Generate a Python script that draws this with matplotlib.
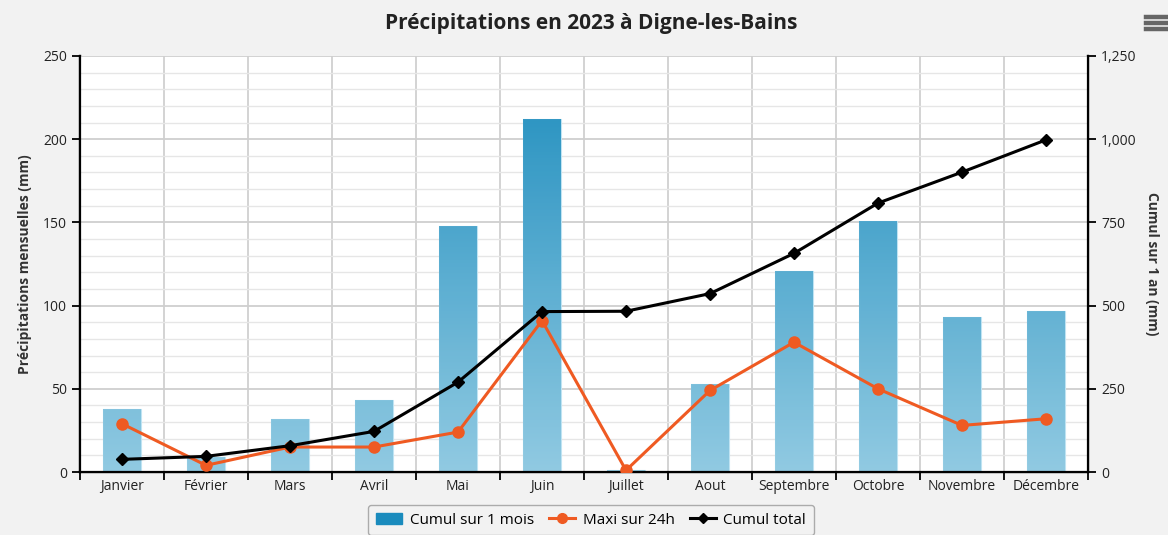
import matplotlib
matplotlib.use('Agg')
import matplotlib.pyplot as plt
from matplotlib.colors import LinearSegmentedColormap
from matplotlib.lines import Line2D
from matplotlib.patches import Patch
import numpy as np

## Data
mois = ['Janvier', 'Février', 'Mars', 'Avril', 'Mai', 'Juin', 'Juillet',
        'Aout', 'Septembre', 'Octobre', 'Novembre', 'Décembre']
cumul_mois = [38, 9, 32, 43, 148, 212, 1, 53, 121, 151, 93, 97]
maxi_24h = [29, 4, 15, 15, 24, 91, 1, 49, 78, 50, 28, 32]
cumul_total = [38, 47, 79, 122, 270, 482, 483, 536, 657, 808, 901, 998]

plt.rcParams['font.family'] = ['Open Sans', 'DejaVu Sans']

fig = plt.figure(figsize=(11.68, 5.35), dpi=100)
fig.patch.set_facecolor('#f2f2f2')
ax = fig.add_axes([80/1168, 1-472/535, 1008/1168, 416/535])
ax.set_facecolor('white')
ax2 = ax.twinx()

x = np.arange(len(mois))

## bars with vertical gradient
cmap = LinearSegmentedColormap.from_list('bl', ['#94cce3', '#1a8bbd'])
bars = ax.bar(x, cumul_mois, width=0.45, color='#5fb0d4', edgecolor='#bfe3f2',
              linewidth=0.8, zorder=2)
grad = np.linspace(0, 1, 256).reshape(-1, 1)
for b in bars:
    im = ax.imshow(grad, cmap=cmap, origin='lower', aspect='auto',
                   extent=[b.get_x(), b.get_x()+b.get_width(), 0, 250],
                   zorder=2.1, alpha=0.95)
    im.set_clip_path(b)

ax.plot(x, maxi_24h, color='#ef5a22', lw=2.2, marker='o', ms=8, zorder=4)
# cumul total drawn on left axes scaled to right axis (1250 / 250 = 5)
ax.plot(x, np.array(cumul_total)/5.0, color='black', lw=2.2, marker='D', ms=6, zorder=5)

ax.set_xlim(-0.5, 11.5)
ax.set_ylim(0, 250)
ax2.set_ylim(0, 1250)
ax2.set_zorder(0)
ax.set_zorder(1)

ax.set_yticks(np.arange(0, 251, 50))
ax.set_yticks(np.arange(0, 251, 10), minor=True)
ax2.set_yticks(np.arange(0, 1251, 250))
ax2.set_yticklabels(['0', '250', '500', '750', '1,000', '1,250'])
ax.set_xticks(x)
ax.set_xticklabels(mois)
ax.set_xticks(np.arange(-0.5, 12, 1), minor=True)

ax.grid(which='major', axis='y', color='#cfcfcf', lw=1.3, zorder=0)
ax.grid(which='minor', axis='y', color='#e6e6e6', lw=1.0, zorder=0)
ax.grid(which='minor', axis='x', color='#d0d0d0', lw=1.3, zorder=0)
ax.set_axisbelow(True)

ax.tick_params(axis='x', which='major', length=0, pad=5, labelsize=10, colors='#222222')
ax.tick_params(axis='x', which='minor', length=6, width=1.3, color='black')
ax.tick_params(axis='y', which='major', length=6, width=1.3, labelsize=10, labelcolor='#222222')
ax.tick_params(axis='y', which='minor', length=0)
ax2.tick_params(axis='y', length=6, width=1.3, labelsize=10, labelcolor='#222222')

for a in (ax, ax2):
    a.spines['top'].set_visible(False)
    for s in ('left', 'right', 'bottom'):
        a.spines[s].set_linewidth(1.6)
        a.spines[s].set_color('black')

ax.set_ylabel('Précipitations mensuelles (mm)', fontsize=10, fontweight='bold',
              color='#333333', labelpad=8)
ax2.set_ylabel('Cumul sur 1 an (mm)', fontsize=10, fontweight='bold',
               color='#333333', rotation=-90, labelpad=16)

fig.text(591/1168, 1-24/535, 'Précipitations en 2023 à Digne-les-Bains',
         ha='center', va='center', fontsize=15, fontweight='bold', color='#222222')

## menu icon
for yy in (17, 23, 29):
    fig.add_artist(Line2D([1146/1168, 1166/1168], [1-yy/535, 1-yy/535],
                          color='#666666', lw=3.2))

handles = [Patch(facecolor='#1a8bbd', edgecolor='#1a8bbd'),
           Line2D([], [], color='#ef5a22', lw=2.2, marker='o', ms=7),
           Line2D([], [], color='black', lw=2.2, marker='D', ms=5)]
leg = fig.legend(handles, ['Cumul sur 1 mois', 'Maxi sur 24h', 'Cumul total'],
                 loc='center', bbox_to_anchor=(591/1168, 1-520/535), ncol=3,
                 fontsize=11, frameon=True, fancybox=True, handlelength=1.7,
                 columnspacing=1.0, handletextpad=0.5, borderpad=0.5)
leg.get_frame().set_edgecolor('#999999')
leg.get_frame().set_facecolor('#f2f2f2')

fig.savefig('out.png', dpi=100, facecolor=fig.get_facecolor())
